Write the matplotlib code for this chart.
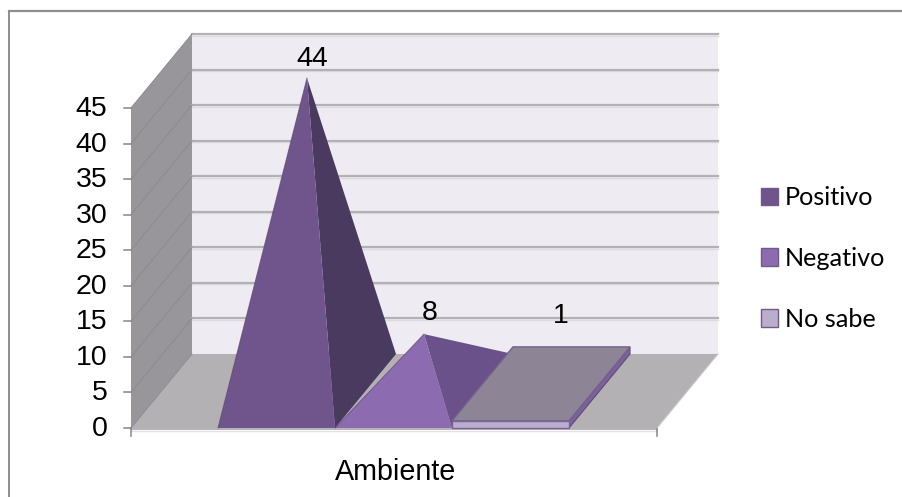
import matplotlib
matplotlib.use("Agg")
import matplotlib.pyplot as plt
from matplotlib.patches import Polygon, Patch

# datos
category = "Ambiente"
series = ["Positivo", "Negativo", "No sabe"]
values = [44, 8, 1]
y_ticks = [0, 5, 10, 15, 20, 25, 30, 35, 40, 45]

# geometria de la caja 3D (en pixeles)
X0, X1 = 131, 657
Y0, Y45 = 428, 108
DX, DY = 61, -74
BAR_L, BAR_W = 218, 117
UNIT = (Y0 - Y45) / 45.0

FRONT = {"Positivo": "#6f558b", "Negativo": "#8d6bb0", "No sabe": "#b9aecb"}
SIDE = {"Positivo": "#4b3a5f", "Negativo": "#6b5189", "No sabe": "#7b6298"}
LABEL_POS = {"Positivo": (312, 59), "Negativo": (430, 313), "No sabe": (561, 316)}


def pt(x, value, depth=0.0):
    # x en pixeles del plano frontal, depth de 0 (frente) a 1 (fondo)
    return (x + DX * depth, Y0 - value * UNIT + DY * depth)


plt.rcParams["font.family"] = ["Liberation Sans", "DejaVu Sans"]

fig = plt.figure(figsize=(9.02, 4.97), dpi=100)
ax = fig.add_axes([0, 0, 1, 1])
ax.set_xlim(0, 902)
ax.set_ylim(497, 0)
ax.axis("off")

# marco exterior: solo arriba e izquierda llegan a verse
ax.plot([8.5, 902], [10.5, 10.5], color="#8e8e8e", lw=1.6, zorder=1)
ax.plot([8.5, 8.5], [10.5, 497], color="#8e8e8e", lw=1.4, zorder=1)

# paredes y suelo
ax.add_patch(Polygon([pt(X0, 0, 1), pt(X1, 0, 1), pt(X1, 45, 1), pt(X0, 45, 1)], fc="#eeecf2", ec="none", zorder=2))
ax.add_patch(Polygon([pt(X0, 0), pt(X0, 45), pt(X0, 45, 1), pt(X0, 0, 1)], fc="#98969a", ec="none", zorder=2))
ax.add_patch(Polygon([pt(X0, 0), pt(X1, 0), pt(X1, 0, 1), pt(X0, 0, 1)], fc="#b3b1b4", ec="none", zorder=2))

for v in y_ticks:
    a, b, c = pt(X0, v), pt(X0, v, 1), pt(X1, v, 1)
    if v > 0:
        ax.plot([b[0], c[0]], [b[1] + 1.5, c[1] + 1.5], color="#dcdbdf", lw=1, zorder=3)
        ax.plot([b[0], c[0]], [b[1], c[1]], color="#b3b1b5", lw=1.6, zorder=3)
    ax.plot([a[0], b[0]], [a[1], b[1]], color="#8c8a8e", lw=0.7, zorder=3)
    ax.plot([a[0] - 7, a[0]], [a[1], a[1]], color="#868686", lw=1.1, zorder=3)
    ax.text(a[0] - 23.5, a[1] + 1, str(v), ha="right", va="center", fontsize=20.5, color="black", zorder=8)

# eje de categorias
ax.plot([X0, X1], [Y0 + 1, Y0 + 1], color="#a8a6aa", lw=1.2, zorder=3)
ax.plot([X0, X1], [Y0 + 2.5, Y0 + 2.5], color="#e2e2e2", lw=1, zorder=3)
for x in [X0, X1]:
    ax.plot([x, x], [Y0, Y0 + 8], color="#868686", lw=1.1, zorder=3)
ax.plot([X1, X1 + DX], [Y0, Y0 + DY], color="#c9c8cb", lw=0.8, zorder=3)
ax.text(395.5, 472, category, ha="center", va="center", fontsize=20.7, color="black", zorder=8)

# piramides de Positivo y Negativo, caja plana de No sabe
for i, (name, val) in enumerate(zip(series, values)):
    left = BAR_L + i * BAR_W
    right = left + BAR_W
    mid = (left + right) / 2
    z = 4 + i * 0.1
    if name == "No sabe":
        ax.add_patch(Polygon([pt(left, val), pt(right, val), pt(right, val, 1), pt(left, val, 1)],
                             fc="#8d8496", ec="#75608f", lw=1, zorder=z + 0.02))
        ax.add_patch(Polygon([pt(right, 0), pt(right, val), pt(right, val, 1), pt(right, 0, 1)],
                             fc=SIDE[name], ec="#5f4a78", lw=0.8, zorder=z + 0.01))
        ax.add_patch(Polygon([pt(left, 0), pt(right, 0), pt(right, val), pt(left, val)],
                             fc=FRONT[name], ec="#7b6298", lw=1, zorder=z + 0.03))
    else:
        apex = pt(mid, val, 0.5)
        ax.add_patch(Polygon([pt(right, 0), pt(right, 0, 1), apex], fc=SIDE[name], ec="none", zorder=z))
        ax.add_patch(Polygon([pt(left, 0), pt(right, 0), apex], fc=FRONT[name], ec="none", zorder=z + 0.01))
        ax.plot(*zip(pt(left, 0), apex), color="#5a4672", lw=0.7, alpha=0.7, zorder=z + 0.02)
    ax.text(*LABEL_POS[name], str(val), ha="center", va="center", fontsize=20.5, color="black", zorder=8)

# leyenda
handles = [Patch(fc=FRONT[s], ec="#6f5a8a", lw=1) for s in series]
ax.legend(handles, series, loc="upper left", bbox_to_anchor=(761 / 902, 1 - 186 / 497), frameon=False,
          prop={"family": "Lato", "size": 18.2}, handlelength=0.67, handleheight=0.67, handletextpad=0.28,
          labelspacing=1.5, borderpad=0, borderaxespad=0)

fig.savefig("out.png", dpi=100)
